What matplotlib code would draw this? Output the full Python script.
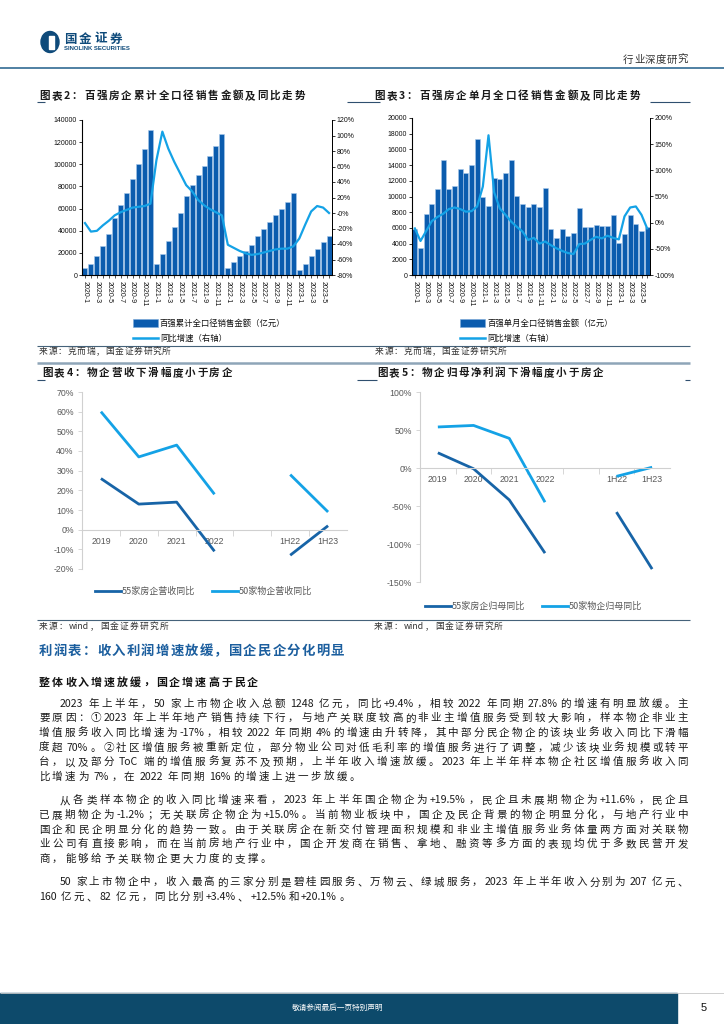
import re
import numpy as np
import matplotlib
matplotlib.use('Agg')
import matplotlib.pyplot as plt
from matplotlib.lines import Line2D
from matplotlib.patches import Rectangle, Ellipse
from matplotlib.font_manager import FontProperties
from matplotlib.ticker import FuncFormatter

# ---------------- data ----------------
months = [f"{y}-{m}" for y in (2020, 2021, 2022, 2023) for m in range(1, 13)][:42]
cum_sales = [6000, 9600, 16800, 26000, 37300, 51400, 63100, 73700, 86700, 100000, 114000, 131400,
             10000, 19300, 30700, 43200, 56300, 71300, 81200, 90300, 98300, 107500, 116500, 127100,
             6000, 11300, 17200, 22000, 27000, 35100, 41800, 47600, 53800, 59800, 66200, 73800,
             4400, 9600, 17200, 23500, 29400, 34900]
cum_yoy = [-13, -24, -23, -16, -10, -3, 1, 4, 7, 8, 9, 12,
           68, 105, 83, 66, 51, 36, 28, 17, 10, 5, 1, -3,
           -41, -45, -49, -52, -54, -53, -51, -49, -47, -46, -46, -43,
           -33, -15, 2, 9, 7, 0]
mon_sales = [5900, 3400, 7800, 9000, 11000, 14600, 11000, 11300, 13500, 13000, 14000, 17300,
             10000, 8800, 12300, 12200, 13000, 14700, 10100, 9000, 8600, 9000, 8600, 11100,
             5900, 4700, 5900, 5000, 5300, 8500, 6100, 6100, 6400, 6300, 6300, 7700,
             4100, 5200, 7600, 6500, 5600, 6100]
mon_yoy = [-11, -35, -16, 3, 11, 17, 26, 29, 26, 21, 22, 31,
           69, 167, 58, 27, 15, 2, -8, -17, -33, -29, -40, -36,
           -43, -49, -54, -58, -60, -41, -40, -33, -27, -30, -25, -29,
           -32, 12, 29, 31, 15, -11]
xtick_labels = [months[i] if i % 2 == 0 else '' for i in range(42)]

periods = ['2019', '2020', '2021', '2022', '', '1H22', '1H23']
dev_rev = [26, 13, 14, -11, np.nan, -13, 2]
pm_rev = [60, 37, 43, 18, np.nan, 28, 9]
dev_np = [20, -1, -42, -112, np.nan, -58, -133]
pm_np = [54, 56, 39, -45, np.nan, -11, 1]

body_lines = [
    "2023 年上半年，50 家上市物企收入总额 1248 亿元，同比+9.4%，相较 2022 年同期 27.8%的增速有明显放缓。主",
    "要原因：①2023 年上半年地产销售持续下行，与地产关联度较高的非业主增值服务受到较大影响，样本物企非业主",
    "增值服务收入同比增速为-17%，相较 2022 年同期 4%的增速由升转降，其中部分民企物企的该块业务收入同比下滑幅",
    "度超 70%。②社区增值服务被重新定位，部分物业公司对低毛利率的增值服务进行了调整，减少该块业务规模或转平",
    "台，以及部分 ToC 端的增值服务复苏不及预期，上半年收入增速放缓。2023 年上半年样本物企社区增值服务收入同",
    "比增速为 7%，在 2022 年同期 16%的增速上进一步放缓。",
    "从各类样本物企的收入同比增速来看，2023 年上半年国企物企为+19.5%，民企且未展期物企为+11.6%，民企且",
    "已展期物企为-1.2%；无关联房企物企为+15.0%。当前物业板块中，国企及民企背景的物企明显分化，与地产行业中",
    "国企和民企明显分化的趋势一致。由于关联房企在新交付管理面积规模和非业主增值服务业务体量两方面对关联物",
    "业公司有直接影响，而在当前房地产行业中，国企开发商在销售、拿地、融资等多方面的表现均优于多数民营开发",
    "商，能够给予关联物企更大力度的支撑。",
    "50 家上市物企中，收入最高的三家分别是碧桂园服务、万物云、绿城服务，2023 年上半年收入分别为 207 亿元、",
    "160 亿元、82 亿元，同比分别+3.4%、+12.5%和+20.1%。",
]
# (indent, justified, paragraph-gap-before)
body_fmt = [(1, 1, 0), (0, 1, 0), (0, 1, 0), (0, 1, 0), (0, 1, 0), (0, 0, 0),
            (1, 1, 1), (0, 1, 0), (0, 1, 0), (0, 1, 0), (0, 0, 0),
            (1, 1, 1), (0, 0, 0)]

# ---------------- setup ----------------
plt.rcParams['font.family'] = ['Liberation Sans', 'Noto Sans CJK SC', 'DejaVu Sans']
CJK = ['Noto Sans CJK SC', 'DejaVu Sans']
W, H, DPI = 724, 1024, 100
fig = plt.figure(figsize=(W / DPI, H / DPI), dpi=DPI)
fig.patch.set_facecolor('white')
renderer = fig.canvas.get_renderer()

BAR = '#0b5cae'
BAR_EDGE = '#a8c8ea'
LIGHT = '#14a2e6'
DARK = '#1764a7'
GREY_TXT = '#595959'


def rect(x0, y0, x1, y1):
    return [x0 / W, 1 - y1 / H, (x1 - x0) / W, (y1 - y0) / H]


def hline(x0, x1, y, color, lw):
    fig.add_artist(Line2D([x0 / W, x1 / W], [1 - y / H, 1 - y / H], transform=fig.transFigure,
                          color=color, lw=lw, solid_capstyle='butt'))


def jtext(s, x0, x1, yc, size, weight='normal', color='#222222', family=CJK,
          justify=True, extra=0.0):
    fp = FontProperties(family=family, size=size, weight=weight)
    toks = re.findall(r'[A-Za-z0-9+\-.%]+| |.', s)
    em = size * DPI / 72
    widths = []
    for t in toks:
        if t == ' ':
            widths.append(em * 0.22)
        else:
            w, h, d = renderer.get_text_width_height_descent(t, fp, ismath=False)
            widths.append(w)
    n = len(toks)
    ngaps = sum(1 for i in range(n - 1) if toks[i] != ' ')
    if justify and x1 is not None and ngaps > 0:
        ex = (x1 - x0 - sum(widths)) / ngaps
    else:
        ex = extra
    x = x0
    base = yc + 0.36 * em
    for t, w in zip(toks, widths):
        if t != ' ':
            fig.text(x / W, 1 - base / H, t, fontproperties=fp, color=color,
                     va='baseline', ha='left')
            x += w + ex
        else:
            x += w
    return ex


pct = FuncFormatter(lambda v, p: f'{v * 100:.0f}%')

# ---------------- header ----------------
fig.add_artist(Ellipse((50 / W, 1 - 42 / H), 18 / W, 21 / H, transform=fig.transFigure,
                       color='#0e4a7a'))
fig.add_artist(Rectangle((49 / W, 1 - 49 / H), 5 / W, 13 / H, transform=fig.transFigure,
                         color='white'))
jtext('国金证券', 64, 122, 38, 9.0, weight='bold', color='#0e4a7a')
fig.text(64 / W, 1 - 48 / H, 'SINOLINK SECURITIES', fontsize=4.3, fontweight='bold',
         color='#0e4a7a', va='center', ha='left', family=['Liberation Sans'])
jtext('行业深度研究', 623, 688, 59, 7.5, color='#333333')
hline(0, 724, 68, '#4f80a3', 1.4)

# ---------------- chart titles & rules ----------------
jtext('图表2：百强房企累计全口径销售金额及同比走势', 39, 305, 95, 7.6, weight='bold', color='#1a1a1a')
jtext('图表3：百强房企单月全口径销售金额及同比走势', 374, 640, 95, 7.6, weight='bold', color='#1a1a1a')
for a, b in [(37, 45), (347, 380), (650, 690)]:
    hline(a, b, 102, '#2f4f6f', 0.8)
hline(37, 690, 346, '#45627a', 0.8)
jtext('来源：克而瑞，国金证券研究所', 39, 171, 351, 6.3, color='#333333')
jtext('来源：克而瑞，国金证券研究所', 375, 507, 351, 6.3, color='#333333')

hline(37, 690, 363, '#8ea5b8', 1.8)
for a, b in [(37, 45), (357, 377), (685, 690)]:
    hline(a, b, 380, '#2f4f6f', 0.8)
jtext('图表4：物企营收下滑幅度小于房企', 42, 232, 372, 7.6, weight='bold', color='#1a1a1a')
jtext('图表5：物企归母净利润下滑幅度小于房企', 377, 603, 372, 7.6, weight='bold', color='#1a1a1a')
hline(37, 690, 620, '#45627a', 0.8)
jtext('来源：wind，国金证券研究所', 39, 168, 626, 6.3, color='#333333')
jtext('来源：wind，国金证券研究所', 374, 503, 626, 6.3, color='#333333')


# ---------------- bar+line charts ----------------
def bar_line(axrect, sales, yoy, ymax, ystep, y2lim, y2step, legend_x, leg1):
    ax = fig.add_axes(rect(*axrect))
    x = np.arange(len(sales))
    ax.bar(x, sales, width=0.84, color=BAR, edgecolor=BAR_EDGE, linewidth=0.4, zorder=2)
    ax.set_xlim(-0.5, len(sales) - 0.5)
    ax.set_ylim(0, ymax)
    ax.set_yticks(np.arange(0, ymax + 1, ystep))
    ax.tick_params(axis='y', labelsize=5, length=2, width=0.6, pad=1.5, colors='#111111')
    ax.set_xticks(x)
    ax.set_xticklabels(xtick_labels, rotation=270, fontsize=5, ha='center', va='top')
    ax.tick_params(axis='x', length=2, width=0.5, pad=2, colors='#111111')
    ax.spines['top'].set_visible(False)
    for s in ['left', 'bottom', 'right']:
        ax.spines[s].set_linewidth(0.7)
    ax.patch.set_alpha(0)
    ax2 = ax.twinx()
    ax2.plot(x, np.array(yoy) / 100, color=LIGHT, lw=1.6, zorder=3)
    ax2.set_ylim(*y2lim)
    ax2.set_yticks(np.arange(y2lim[0], y2lim[1] + 1e-9, y2step))
    ax2.yaxis.set_major_formatter(pct)
    ax2.tick_params(axis='y', labelsize=5, length=2, width=0.6, pad=1.5, colors='#111111')
    ax2.spines['top'].set_visible(False)
    ax2.spines['right'].set_linewidth(0.7)
    lx = legend_x
    fig.add_artist(Rectangle((lx / W, 1 - 327 / H), 25 / W, 8 / H, transform=fig.transFigure,
                             facecolor=BAR, edgecolor='#7aa8d8', lw=0.4))
    fig.text((lx + 27) / W, 1 - 323 / H, leg1, fontsize=6, va='center', ha='left',
             family=CJK, color='#111111')
    fig.add_artist(Line2D([lx / W, (lx + 25) / W], [1 - 338 / H] * 2, transform=fig.transFigure,
                          color=LIGHT, lw=1.8))
    fig.text((lx + 27) / W, 1 - 338 / H, '同比增速（右轴）', fontsize=6, va='center', ha='left',
             family=CJK, color='#111111')
    return ax, ax2


bar_line((82, 120, 332, 275), cum_sales, cum_yoy, 140000, 20000, (-0.8, 1.2), 0.2, 133,
         '百强累计全口径销售金额（亿元）')
bar_line((412, 118, 650, 275), mon_sales, mon_yoy, 20000, 2000, (-1.0, 2.0), 0.5, 460,
         '百强单月全口径销售金额（亿元）')


# ---------------- line charts ----------------
def line_chart(axrect, dev, pm, ylim, ystep, legy, legx, names):
    ax = fig.add_axes(rect(*axrect))
    x = np.arange(len(periods))
    ax.plot(x, np.array(dev) / 100, color=DARK, lw=2.0, solid_capstyle='butt')
    ax.plot(x, np.array(pm) / 100, color=LIGHT, lw=2.0, solid_capstyle='butt')
    ax.set_xlim(-0.5, len(periods) - 0.5)
    ax.set_ylim(*ylim)
    ax.set_yticks(np.arange(ylim[0], ylim[1] + 1e-9, ystep))
    ax.yaxis.set_major_formatter(pct)
    ax.spines['top'].set_visible(False)
    ax.spines['right'].set_visible(False)
    ax.spines['left'].set_color('#d0d0d0')
    ax.spines['bottom'].set_color('#d0d0d0')
    ax.spines['bottom'].set_position(('data', 0))
    ax.set_xticks([i for i in x if periods[i]])
    ax.set_xticklabels([p for p in periods if p])
    ax.set_xticks(np.arange(0.5, len(periods) - 1, 1.0), minor=True)
    ax.tick_params(axis='x', which='major', length=0, pad=5, labelsize=6.3, colors=GREY_TXT)
    ax.tick_params(axis='x', which='minor', length=4, width=0.6, color='#d0d0d0', direction='out')
    ax.tick_params(axis='y', length=3, width=0.6, color='#d0d0d0', labelsize=6.3,
                   labelcolor=GREY_TXT, pad=3)
    ax.patch.set_alpha(0)
    for col, lx, name in [(DARK, legx[0], names[0]), (LIGHT, legx[1], names[1])]:
        fig.add_artist(Line2D([lx / W, (lx + 26) / W], [1 - legy / H] * 2,
                              transform=fig.transFigure, color=col, lw=2.0))
        fig.text((lx + 27) / W, 1 - legy / H, name, fontsize=6.5, va='center', ha='left',
                 family=CJK, color=GREY_TXT)
    return ax


line_chart((82, 392, 347, 569), dev_rev, pm_rev, (-0.2, 0.7), 0.1, 591, (95, 212),
           ('55家房企营收同比', '50家物企营收同比'))
line_chart((420, 392, 670, 582), dev_np, pm_np, (-1.5, 1.0), 0.5, 606, (425, 542),
           ('55家房企归母同比', '50家物企归母同比'))

# ---------------- text section ----------------
jtext('利润表：收入利润增速放缓，国企民企分化明显', 39, 344, 650, 9.6, weight='bold',
      color='#1b5e9e')
jtext('整体收入增速放缓，国企增速高于民企', 39, 258, 682, 7.9, weight='bold', color='#111111')

y = 703
last_ex = 1.5
for i, (line, (ind, just, gap)) in enumerate(zip(body_lines, body_fmt)):
    if i > 0:
        y += 14.6 + (9 if gap else 0)
    x0 = 60 if ind else 39
    if just:
        last_ex = jtext(line, x0, 688, y, 7.6, color='#1a1a1a')
    else:
        jtext(line, x0, None, y, 7.6, color='#1a1a1a', justify=False, extra=last_ex)

# ---------------- footer ----------------
hline(0, 724, 992.5, '#c8c8c8', 0.6)
fig.add_artist(Rectangle((0, 0), 677 / W, 31 / H, transform=fig.transFigure, color='#0d4a6b'))
fig.text(338 / W, 1 - 1008 / H, '敬请参阅最后一页特别声明', fontsize=5.5, color='white',
         ha='center', va='center', family=CJK)
fig.text(704 / W, 1 - 1008 / H, '5', fontsize=8, color='#111111', ha='center', va='center')

fig.savefig('out.png', dpi=DPI, facecolor='white')
